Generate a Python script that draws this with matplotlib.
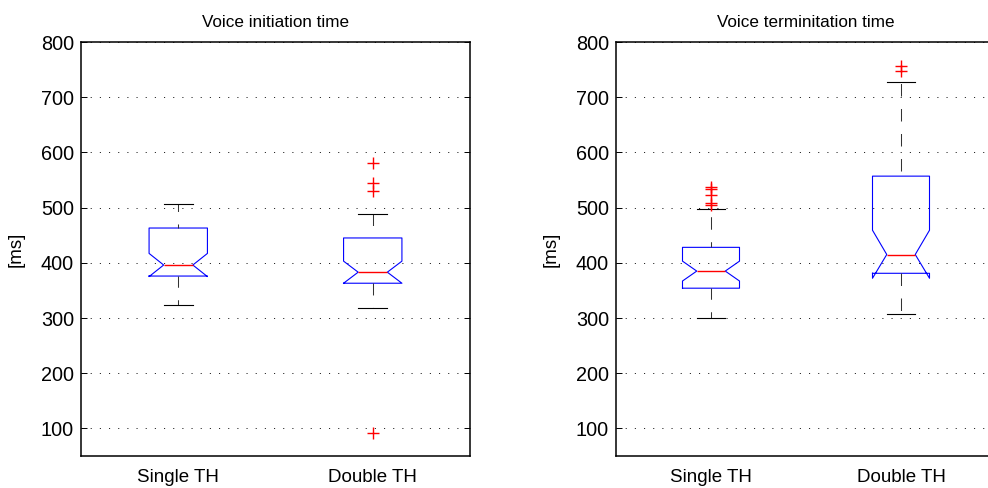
import matplotlib
matplotlib.use("Agg")
import matplotlib.pyplot as plt

plt.rcParams['font.family'] = ['Liberation Sans', 'DejaVu Sans']
plt.rcParams['lines.scale_dashes'] = False

groups = ["Single TH", "Double TH"]

# Voice initiation time
init_med = [396, 383]
init_q1 = [376, 363]
init_q3 = [463, 445]
init_whislo = [323, 318]
init_whishi = [506, 488]
init_cilo = [375, 363]
init_cihi = [417, 403]
init_fliers = [[], [581, 544, 530, 91]]

# Voice termination time
term_med = [385, 415]
term_q1 = [354, 381]
term_q3 = [428, 557]
term_whislo = [300, 307]
term_whishi = [497, 727]
term_cilo = [367, 372]
term_cihi = [403, 459]
term_fliers = [[538, 533, 522, 509, 504], [757, 747]]

titles = ["Voice initiation time", "Voice terminitation time"]
yticks = [100, 200, 300, 400, 500, 600, 700, 800]

W, H = 988, 488
fig = plt.figure(figsize=(W / 100, H / 100), dpi=100)

def make_stats(med, q1, q3, lo, hi, cilo, cihi, fl):
    out = []
    for i, g in enumerate(groups):
        out.append(dict(med=med[i], q1=q1[i], q3=q3[i], whislo=lo[i], whishi=hi[i],
                        cilo=cilo[i], cihi=cihi[i], fliers=fl[i], label=g))
    return out

panels = [
    (make_stats(init_med, init_q1, init_q3, init_whislo, init_whishi, init_cilo, init_cihi, init_fliers),
     [81, 42, 389, 414], [0.9, 6.1, 0.4, 9.0]),
    (make_stats(term_med, term_q1, term_q3, term_whislo, term_whishi, term_cilo, term_cihi, term_fliers),
     [616, 42, 380, 414], [0.9, 5.2, 0.0, 14.4]),
]

for k, (stats, (px, py, pw, ph), offs) in enumerate(panels):
    ax = fig.add_axes([px / W, 1 - (py + ph) / H, pw / W, ph / H])
    res = ax.bxp(stats, positions=[1, 2], widths=0.3, shownotches=True,
                 boxprops=dict(color='#0000ff', lw=0.8),
                 medianprops=dict(color='#ff0000', lw=1.0),
                 whiskerprops=dict(color='#333333', lw=0.75, linestyle=(0, (9, 9))),
                 capprops=dict(color='k', lw=0.8),
                 flierprops=dict(marker='+', markeredgecolor='#ff0000', markersize=9,
                                 markeredgewidth=1.0, linestyle='none'))
    for w, o in zip(res['whiskers'], offs):
        w.set_linestyle((o, (9, 9)))
    ax.set_xlim(0.5, 2.5)
    ax.set_ylim(50, 800)
    ax.set_yticks(yticks)
    ax.set_xticks([1, 2])
    ax.set_xticklabels(groups)
    ax.yaxis.grid(True, linestyle=(0, (0.8, 5.8)), color='#222222', lw=0.7)
    ax.set_axisbelow(True)
    ax.tick_params(axis='y', direction='in', length=4, width=0.7, right=True,
                   labelsize=14.3, pad=5)
    ax.tick_params(axis='x', length=0, labelsize=13.5, pad=9)
    for s in ax.spines.values():
        s.set_linewidth(1.1)
    ax.set_title(titles[k], fontsize=12.3, pad=11)
    ax.set_ylabel("[ms]", fontsize=13.5, labelpad=12)

fig.savefig("out.png", dpi=100)
